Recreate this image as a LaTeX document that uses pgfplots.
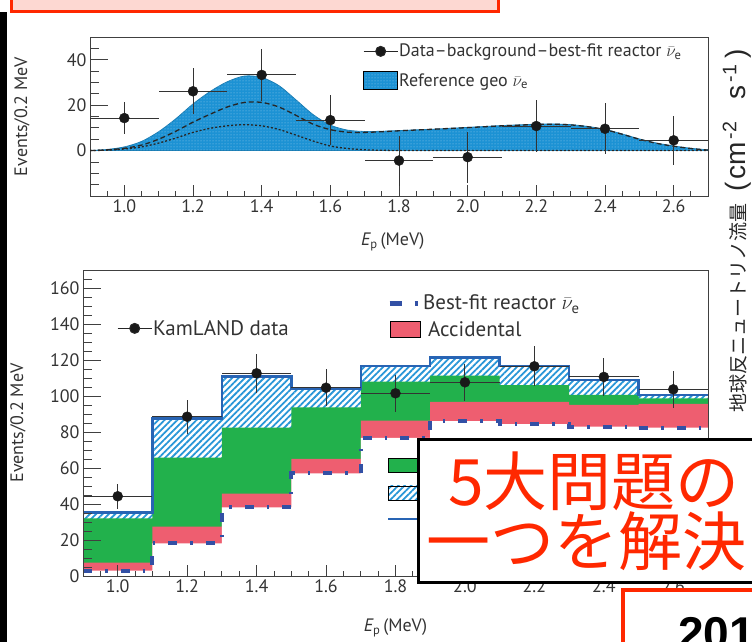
\documentclass[border=0pt]{standalone}
\usepackage{pgfplots}
\pgfplotsset{compat=1.18}
\usepackage{pgfplotstable}
\usetikzlibrary{patterns,patterns.meta}
\usepackage{fontspec}
\setmainfont{PT Sans}
\newfontfamily\cjk{Noto Sans CJK JP}
\newfontfamily\arialf{Liberation Sans}

\definecolor{geoblue}{RGB}{28,146,212}
\definecolor{kgreen}{RGB}{34,177,76}
\definecolor{kpink}{RGB}{238,94,112}
\definecolor{hatchblue}{RGB}{40,150,215}
\definecolor{totblue}{RGB}{40,100,180}
\definecolor{reacblue}{RGB}{50,80,165}
\definecolor{kred}{RGB}{255,40,0}
\definecolor{bannerpink}{RGB}{253,216,210}

\pgfplotstableread{
x y ex ey
1.0 14.3 0.1 7.0
1.2 26.1 0.1 10.2
1.4 33.3 0.1 11.4
1.6 13.4 0.1 11.0
1.8 -4.4 0.1 11.0
2.0 -2.9 0.1 11.2
2.2 10.8 0.1 11.3
2.4 9.6 0.1 11.2
2.6 4.5 0.1 10.9
}\topdata

\pgfplotstableread{
x tot u th
0.90 0 0 0
0.95 0.5 0.3 0.2
1.00 1.6 1.0 0.7
1.05 4.0 2.4 1.6
1.10 8.3 5.0 3.3
1.15 14.0 8.5 5.5
1.20 20.5 12.5 8.0
1.25 26.0 16.0 9.8
1.30 30.3 19.2 10.9
1.35 32.8 21.2 11.4
1.40 32.2 21.2 10.9
1.45 28.6 19.2 9.3
1.50 22.3 15.5 6.8
1.55 15.8 11.6 4.2
1.60 11.2 9.2 2.0
1.65 9.0 8.1 0.9
1.70 8.4 8.0 0.35
1.75 8.5 8.3 0.12
1.80 8.8 8.7 0.03
1.85 9.1 9.05 0
1.90 9.4 9.4 0
1.95 9.8 9.75 0
2.00 10.2 10.1 0
2.05 10.6 10.5 0
2.10 11.0 10.9 0
2.15 11.3 11.2 0
2.20 11.6 11.5 0
2.25 11.7 11.6 0
2.30 11.4 11.3 0
2.35 10.6 10.5 0
2.40 9.3 9.2 0
2.45 7.3 7.2 0
2.50 5.1 5.0 0
2.55 3.3 3.2 0
2.60 2.0 1.9 0
2.65 1.0 0.9 0
2.70 0.3 0.2 0
}\geo

\pgfplotstableread{
x y ex ey
1.0 44.3 0.1 7.0
1.2 88.5 0.1 9.4
1.4 112.6 0.1 10.7
1.6 104.6 0.1 10.4
1.8 101.5 0.1 10.2
2.0 107.6 0.1 10.2
2.2 116.5 0.1 11.0
2.4 110.6 0.1 10.7
2.6 103.7 0.1 10.3
}\botdata

\pgfplotstableread{
x reac acc alpha total
0.9 3.0 7.4 32.0 35.4
1.1 18.1 27.4 65.7 87.6
1.3 38.1 45.7 82.4 110.9
1.5 57.0 65.0 93.7 104.3
1.7 76.7 86.3 108.0 116.7
1.9 86.1 96.7 111.3 121.5
2.1 84.4 96.7 106.1 116.7
2.3 83.0 95.0 100.6 108.9
2.5 82.4 95.6 98.7 100.6
2.7 82.4 95.6 98.7 100.6
}\bins

\pgfplotsset{
  kam/.style={
    scale only axis,
    axis line style={black!75, line width=0.8pt},
    tick pos=left, tick align=inside,
    tick style={black!75, line width=0.8pt},
    major tick length=11pt, minor tick length=5pt,
    y tick style={/pgfplots/major tick length=18pt, /pgfplots/minor tick length=9pt},
    /pgf/number format/assume math mode=true,
    tick label style={font=\fontsize{18}{20}\selectfont, text=black!80},
    xmin=0.9, xmax=2.7,
    xtick={1.0,1.2,1.4,1.6,1.8,2.0,2.2,2.4,2.6},
    minor xtick={0.9,0.95,...,2.7},
    xticklabel style={/pgf/number format/.cd, fixed, fixed zerofill, precision=1},
  },
  legonly/.style={
    scale only axis, hide axis, xmin=0, xmax=1, ymin=0, ymax=1,
    legend cell align=left,
    legend style={anchor=north west, draw=none, fill=none, inner sep=0pt,
      text=black!80, nodes={inner sep=1pt},
      /tikz/every even column/.append style={column sep=12pt}},
  },
  datapts/.style={only marks, mark=*, mark size=5pt, black!90,
    error bars/.cd, x dir=both, x explicit, y dir=both, y explicit,
    error mark=none, error bar style={black!80, line width=1pt}},
}

\begin{document}
\begin{tikzpicture}[x=1pt,y=1pt]
\useasboundingbox (0,0) rectangle (752,642);
\clip (0,0) rectangle (752,642);

% ---------------- top panel ----------------
\begin{axis}[kam, at={(90pt,446pt)}, anchor=south west, width=618pt, height=159pt,
  ymin=-20, ymax=50, ytick={0,20,40}, minor ytick={-15,-10,...,45},
  xlabel={{\itshape E}\textsubscript{p}\,(MeV)}, ylabel={Events/0.2 MeV},
  every axis x label/.style={at={(axis description cs:0.49,-0.289)}, anchor=center, font=\fontsize{18}{20}\selectfont, text=black!80},
  every axis y label/.style={at={(axis description cs:-0.110,0.5)}, rotate=90, anchor=center, font=\fontsize{18}{20}\selectfont, text=black!80}]
\addplot[fill=geoblue, draw=geoblue!85!black, line width=0.8pt, smooth] table[x=x,y=tot]{\geo} \closedcycle;
\addplot[pattern=dots, pattern color=geoblue!45!white, draw=none, smooth] table[x=x,y=tot]{\geo} \closedcycle;
\addplot[black!85, line width=1.3pt, dash pattern=on 5pt off 3pt, smooth] table[x=x,y=u]{\geo};
\addplot[black!85, line width=1.3pt, dash pattern=on 2pt off 2pt, smooth] table[x=x,y=th]{\geo};
\addplot[datapts] table[x=x,y=y,x error=ex,y error=ey]{\topdata};
\end{axis}

\begin{axis}[legonly, at={(90pt,446pt)}, anchor=south west, width=618pt, height=159pt,
  legend style={at={(0.4417,0.962)}, font=\fontsize{18}{20}\selectfont, row sep=12pt}]
\addlegendimage{legend image code/.code={\draw[mark repeat=2, mark phase=2, black!85, line width=1pt, mark=*, mark size=5pt, mark options={fill=black!90}] plot coordinates {(0pt,0pt) (17pt,0pt) (34pt,0pt)};}}
\addlegendentry{Data--background--best-fit reactor $\bar{\nu}_\mathrm{e}$}
\addlegendimage{legend image code/.code={\path[fill=geoblue] (0pt,-9pt) rectangle (34pt,9pt); \path[pattern=dots, pattern color=geoblue!45!white] (0pt,-9pt) rectangle (34pt,9pt);}}
\addlegendentry{Reference geo $\bar{\nu}_\mathrm{e}$}
\end{axis}

% ---------------- bottom panel ----------------
\begin{axis}[kam, at={(83pt,66pt)}, anchor=south west, width=625pt, height=306pt,
  ymin=0, ymax=170, ytick={0,20,40,60,80,100,120,140,160}, minor ytick={0,5,...,170},
  axis on top,
  xlabel={{\itshape E}\textsubscript{p}\,(MeV)}, ylabel={Events/0.2 MeV},
  every axis x label/.style={at={(axis description cs:0.5,-0.170)}, anchor=center, font=\fontsize{18}{20}\selectfont, text=black!80},
  every axis y label/.style={at={(axis description cs:-0.104,0.5)}, rotate=90, anchor=center, font=\fontsize{18}{20}\selectfont, text=black!80}]
\addplot[const plot, draw=none, pattern={Lines[angle=45,distance=4.5pt,line width=1.8pt]}, pattern color=hatchblue] table[x=x,y=total]{\bins} \closedcycle;
\addplot[const plot, draw=none, fill=kgreen] table[x=x,y=alpha]{\bins} \closedcycle;
\addplot[const plot, draw=none, fill=kpink] table[x=x,y=acc]{\bins} \closedcycle;
\addplot[const plot, draw=none, fill=white] table[x=x,y=reac]{\bins} \closedcycle;
\addplot[const plot, draw=reacblue, line width=4pt, dash pattern=on 9pt off 13pt on 2.5pt off 13pt] table[x=x,y=reac]{\bins};
\addplot[const plot, draw=totblue, line width=2.5pt] table[x=x,y=total]{\bins};
\addplot[datapts] table[x=x,y=y,x error=ex,y error=ey]{\botdata};
\end{axis}

\begin{axis}[legonly, at={(83pt,66pt)}, anchor=south west, width=625pt, height=306pt,
  legend style={at={(0.0544,0.840)}, font=\fontsize{21}{23}\selectfont}]
\addlegendimage{legend image code/.code={\draw[mark repeat=2, mark phase=2, black!85, line width=1pt, mark=*, mark size=5pt, mark options={fill=black!90}] plot coordinates {(0pt,0pt) (17pt,0pt) (34pt,0pt)};}}
\addlegendentry{KamLAND data}
\end{axis}

\begin{axis}[legonly, at={(83pt,66pt)}, anchor=south west, width=625pt, height=306pt,
  legend style={at={(0.4864,0.922)}, font=\fontsize{21}{23}\selectfont, row sep=8pt}]
\addlegendimage{legend image code/.code={\draw[reacblue, line width=5pt, dash pattern=on 12pt off 13pt on 3pt off 10pt] (0pt,0pt) -- (30pt,0pt);}}
\addlegendentry{Best-fit reactor $\bar{\nu}_\mathrm{e}$}
\addlegendimage{legend image code/.code={\path[fill=kpink] (0pt,-8pt) rectangle (30pt,8pt);}}
\addlegendentry{\hspace{5pt}Accidental}
\end{axis}

\begin{axis}[legonly, at={(83pt,66pt)}, anchor=south west, width=625pt, height=306pt,
  legend style={at={(0.4864,0.395)}, font=\fontsize{21}{23}\selectfont, row sep=8pt}]
\addlegendimage{legend image code/.code={\path[fill=kgreen] (0pt,-7pt) rectangle (30pt,7pt);}}
\addlegendentry{$^{13}$C($\alpha$, n)$^{16}$O}
\addlegendimage{legend image code/.code={\path[pattern={Lines[angle=45,distance=4.5pt,line width=1.8pt]}, pattern color=hatchblue] (0pt,-7pt) rectangle (30pt,7pt);}}
\addlegendentry{Best-fit geo $\bar{\nu}_\mathrm{e}$}
\addlegendimage{legend image code/.code={\draw[totblue, line width=2pt] (0pt,0pt) -- (30pt,0pt);}}
\addlegendentry{Best-fit total}
\end{axis}

% ---------------- slide overlays ----------------
\fill[black] (0,0) rectangle (7,630);
\draw[line width=3.5pt, draw=kred, fill=bannerpink] (11.5,630.5) rectangle (498.5,660);
\node[anchor=base, inner sep=0, font={\cjk\fontsize{30}{30}\selectfont}] at (258,645) {ニュートリノで地球内部を観測};

\node[rotate=90, anchor=west, inner sep=0, text=black!85] at (737,229)
  {{\cjk\fontsize{19}{21}\selectfont 地球反ニュートリノ流量}\hspace{12pt}{\arialf\fontsize{28}{30}\selectfont (\hspace{3pt}cm\hspace{3pt}\textsuperscript{-2}\hspace{22pt}s\hspace{3pt}\textsuperscript{-1}\hspace{6pt})}};

\draw[line width=3pt, fill=white] (418,202) rectangle (790,59);
\node[anchor=west, inner sep=0, text=kred, font={\cjk\fontsize{64}{64}\selectfont}] at (448,161) {5大問題の};
\node[anchor=west, inner sep=0, text=kred, font={\cjk\fontsize{64}{64}\selectfont}] at (426,101) {一つを解決};

\draw[line width=4pt, draw=kred, fill=white] (623,52) rectangle (800,-30);
\node[anchor=base west, inner sep=0, font={\arialf\bfseries\fontsize{46}{46}\selectfont}] at (678,-8) {2011};
\end{tikzpicture}
\end{document}
